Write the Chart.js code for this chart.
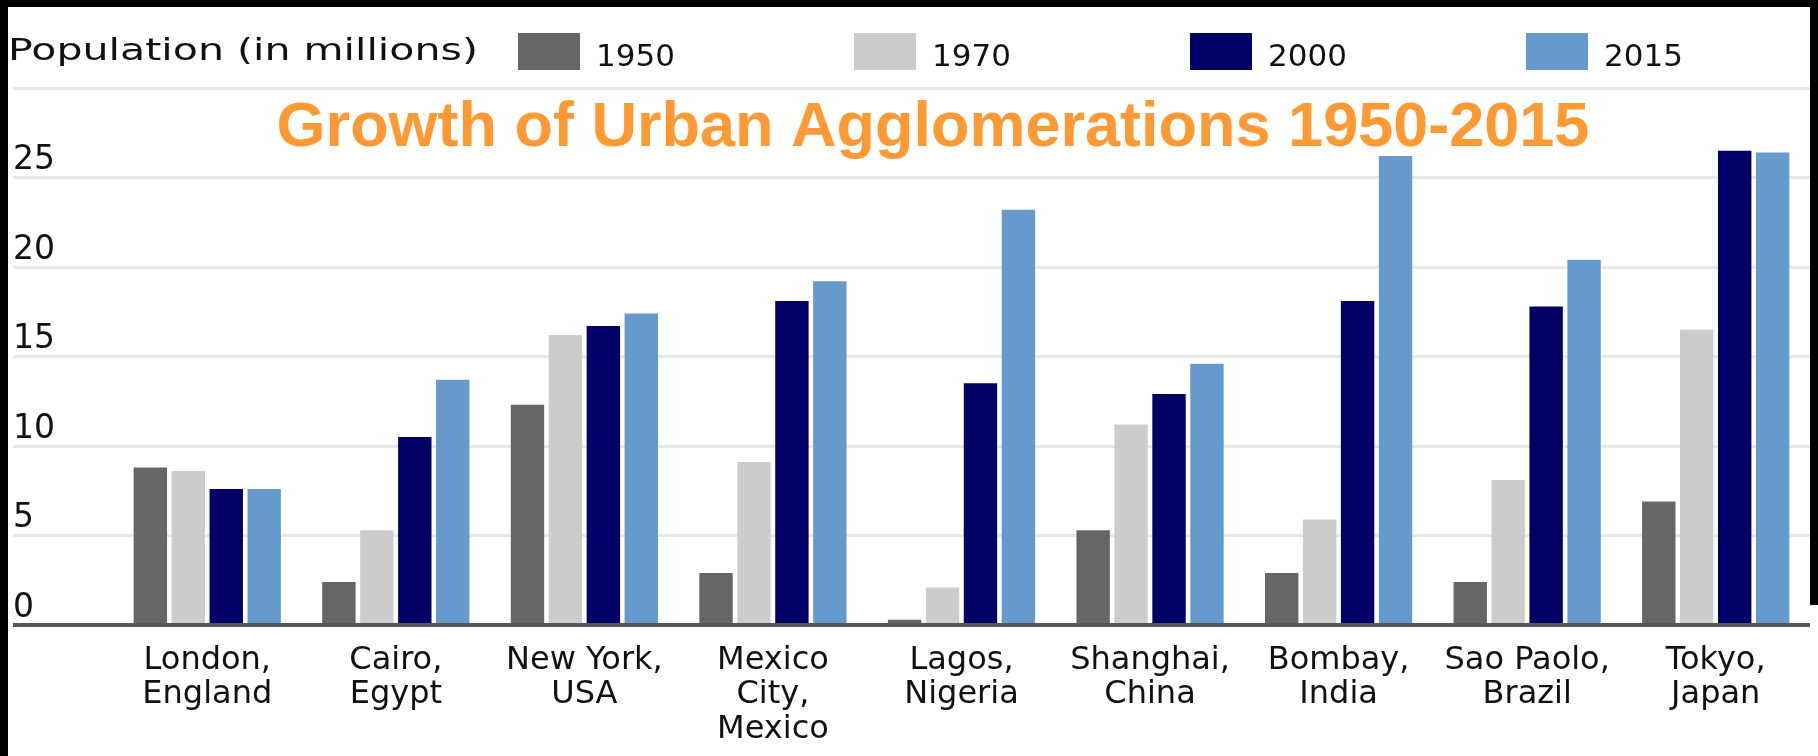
<!DOCTYPE html>
<html>
<head>
<meta charset="utf-8">
<title>Growth of Urban Agglomerations 1950-2015</title>
<script src="https://cdn.jsdelivr.net/npm/chart.js@4.4.1/dist/chart.umd.min.js"></script>
<style>
  html, body { margin: 0; padding: 0; background: #000; width: 1818px; height: 756px; overflow: hidden; }
  #wrap { position: absolute; left: 8px; top: 7px; width: 1802px; height: 749px; background: #fff; }
  #patch { position: absolute; left: 1810px; top: 605px; width: 8px; height: 151px; background: #fff; }
</style>
</head>
<body>
<div id="wrap"><canvas id="cityChart"></canvas></div>
<div id="patch"></div>
<script>
// Population of urban agglomerations, in millions
const cities = [
  ['London,', 'England'], ['Cairo,', 'Egypt'], ['New York,', 'USA'],
  ['Mexico', 'City,', 'Mexico'], ['Lagos,', 'Nigeria'], ['Shanghai,', 'China'],
  ['Bombay,', 'India'], ['Sao Paolo,', 'Brazil'], ['Tokyo,', 'Japan']
];
const years = ['1950', '1970', '2000', '2015'];
const pop1950 = [8.8, 2.4, 12.3, 2.9, 0.3, 5.3, 2.9, 2.4, 6.9];
const pop1970 = [8.6, 5.3, 16.2, 9.1, 2.1, 11.2, 5.9, 8.1, 16.5];
const pop2000 = [7.6, 10.5, 16.7, 18.1, 13.5, 12.9, 18.1, 17.8, 26.5];
const pop2015 = [7.6, 13.7, 17.4, 19.2, 23.2, 14.6, 26.2, 20.4, 26.4];
const yMax = 30;
const yStep = 5;
const chartTitle = 'Growth of Urban Agglomerations 1950-2015';
const unitCaption = 'Population (in millions)';

const barColors = ['#666666', '#cccccc', '#000066', '#6699cc'];
const textColor = '#111111';

Chart.defaults.font.family = '"DejaVu Sans", sans-serif';
Chart.defaults.color = textColor;

// caption, year swatches and the orange heading
const headerRow = {
  id: 'headerRow',
  afterDraw(chart, args, opts) {
    const ctx = chart.ctx;
    ctx.save();
    ctx.textAlign = 'left';
    ctx.textBaseline = 'alphabetic';
    ctx.fillStyle = textColor;

    ctx.save();
    ctx.font = '30px "DejaVu Sans"';
    ctx.translate(opts.captionX, opts.captionBaseline);
    ctx.scale(1.37, 1);
    ctx.fillText(unitCaption, 0, 0);
    ctx.restore();

    ctx.font = '31px "DejaVu Sans"';
    chart.data.datasets.forEach((ds, i) => {
      const x = opts.firstBoxX + i * opts.step;
      ctx.fillStyle = ds.backgroundColor;
      ctx.fillRect(x, opts.boxTop, opts.boxW, opts.boxH);
      ctx.fillStyle = textColor;
      ctx.fillText(ds.label, x + opts.boxW + 16, opts.yearBaseline);
    });

    ctx.font = 'bold 63px "Liberation Sans"';
    ctx.fillStyle = '#ff9933';
    ctx.textAlign = 'center';
    ctx.fillText(chartTitle, opts.titleX, opts.titleBaseline);
    ctx.restore();
  }
};

const series = [pop1950, pop1970, pop2000, pop2015];

const config = {
  type: 'bar',
  data: {
    labels: cities,
    datasets: years.map((y, i) => ({
      label: y,
      data: series[i],
      backgroundColor: barColors[i],
      borderWidth: 0,
      categoryPercentage: 0.805,
      barPercentage: 0.88
    }))
  },
  options: {
    responsive: true,
    maintainAspectRatio: false,
    animation: false,
    layout: {
      padding: { left: 5, right: 0, top: 81, bottom: 3 }
    },
    plugins: {
      legend: { display: false },
      tooltip: { enabled: false },
      headerRow: {
        captionX: 0,
        captionBaseline: 53,
        firstBoxX: 510,
        step: 336,
        boxTop: 26,
        boxW: 62,
        boxH: 37,
        yearBaseline: 59,
        titleX: 925,
        titleBaseline: 139
      }
    },
    scales: {
      x: {
        offset: true,
        afterFit(scale) { scale.height = 128; },
        grid: { display: false, drawTicks: false },
        border: { display: false },
        ticks: {
          maxRotation: 0,
          autoSkip: false,
          padding: 18,
          color: textColor,
          font: { size: 32, lineHeight: 1.08 }
        }
      },
      y: {
        min: 0,
        max: yMax,
        border: { display: false },
        afterFit(scale) { scale.width = 100; },
        grid: {
          drawTicks: true,
          tickLength: 100,
          color: c => (c.tick && c.tick.value === 0 ? '#55555f' : '#e8e8e8'),
          lineWidth: c => (c.tick && c.tick.value === 0 ? 4 : 3)
        },
        ticks: {
          stepSize: yStep,
          crossAlign: 'far',
          labelOffset: -17,
          color: textColor,
          font: { size: 33 },
          callback: v => (v === yMax ? '' : v)
        }
      }
    }
  },
  plugins: [headerRow]
};

const cityChart = new Chart(document.getElementById('cityChart'), config);
</script>
</body>
</html>
